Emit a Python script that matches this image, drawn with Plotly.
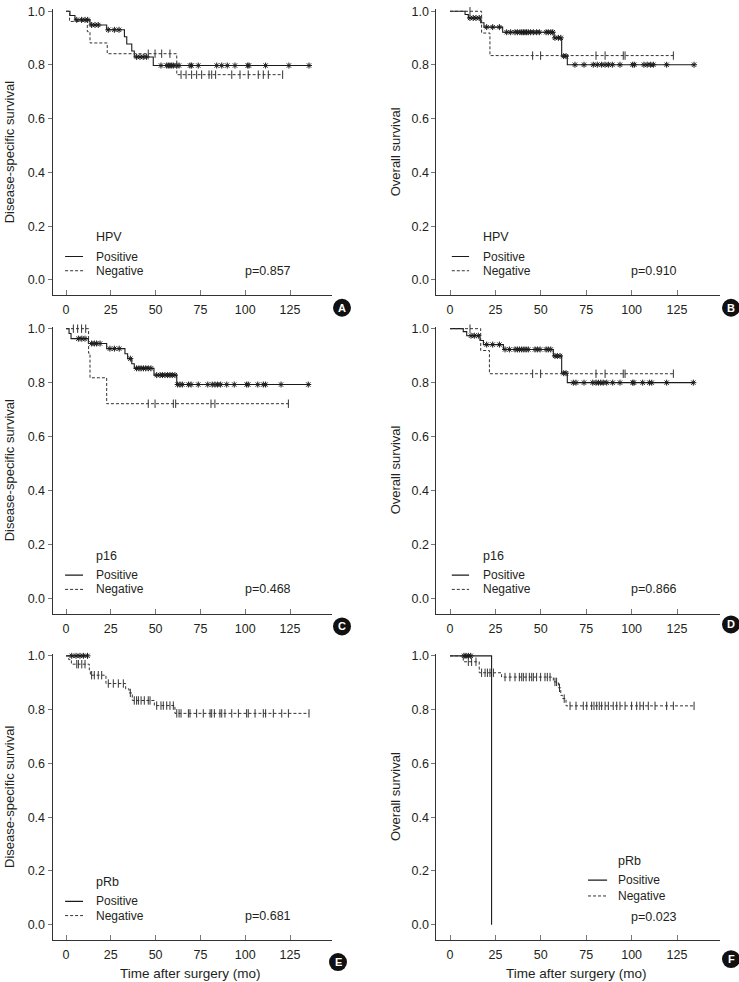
import plotly.graph_objects as go

W, H = 739, 982

# ---------------- data (months, survival) ----------------
# Panel A: HPV, disease-specific survival
A_pos_t = [2.2, 5.0, 13.4, 22.7, 32.6, 33.9, 36.7, 38.1, 48.7]
A_pos_s = [0.984, 0.968, 0.949, 0.931, 0.905, 0.878, 0.852, 0.830, 0.798]
A_pos_c = [6.0, 8.7, 10.6, 12.1, 14.3, 16.2, 18.0, 23.6, 27.0, 29.6, 39.4, 41.3, 43.1, 45.0,
           53.0, 56.2, 57.1, 58.0, 59.0, 59.9, 61.8, 63.1, 69.2, 70.1, 73.8, 84.1, 86.9,
           90.0, 94.3, 101.4, 102.1, 111.4, 124.4, 135.6]
A_neg_t = [2.0, 11.9, 13.4, 23.0, 61.8]
A_neg_s = [0.962, 0.924, 0.882, 0.842, 0.764]
A_neg_c = [45.9, 49.7, 53.4, 58.0, 64.2, 67.0, 70.1, 72.9, 75.7, 79.8, 81.3, 83.5, 92.5,
           97.1, 101.7, 107.3, 110.1, 112.9, 120.9]

# Panel B: HPV, overall survival
B_pos_t = [8.3, 10.1, 16.9, 18.7, 29.0, 57.3, 61.5, 64.6]
B_pos_s = [0.988, 0.975, 0.957, 0.941, 0.922, 0.901, 0.833, 0.801]
B_pos_c = [11.0, 12.8, 14.3, 16.1, 20.2, 23.5, 27.2, 31.2, 33.4, 35.8, 37.1, 38.5, 39.5,
           40.4, 41.3, 42.2, 43.1, 44.4, 45.9, 47.7, 49.2, 52.9, 54.1, 55.5, 56.6, 57.8,
           59.7, 61.0, 62.6, 63.9, 68.8, 73.8, 78.9, 81.1, 83.5, 85.4, 87.2, 89.4, 93.6,
           100.6, 101.5, 106.8, 108.6, 110.5, 112.0, 119.3, 134.4]
B_neg_t = [17.4, 22.0]
B_neg_s = [0.919, 0.835]
B_neg_c = [11.0, 45.5, 49.9, 80.4, 85.4, 95.4, 96.4, 123.0]

# Panel C: p16, disease-specific survival
C_pos_t = [1.7, 2.8, 12.5, 22.7, 32.9, 34.4, 36.7, 38.1, 49.1, 61.8]
C_pos_s = [0.982, 0.963, 0.945, 0.926, 0.907, 0.889, 0.870, 0.853, 0.828, 0.793]
C_pos_c = [6.9, 8.8, 10.6, 14.3, 15.8, 17.1, 19.0, 24.5, 27.0, 29.7, 35.9, 39.4, 40.7,
           41.9, 43.2, 44.5, 45.9, 47.4, 50.6, 52.5, 53.8, 55.2, 56.7, 58.0, 59.3, 60.8,
           62.3, 63.6, 64.9, 68.3, 69.8, 73.8, 79.1, 81.6, 83.1, 84.6, 86.3, 89.7, 93.9,
           100.8, 101.7, 107.0, 110.1, 111.4, 120.0, 135.2]
C_neg_t = [12.6, 13.4, 22.7]
C_neg_s = [0.909, 0.818, 0.722]
C_neg_c = [4.1, 6.5, 8.7, 11.0, 45.9, 49.7, 59.9, 61.2, 80.9, 83.1, 124.1]

# Panel D: p16, overall survival
D_pos_t = [7.3, 9.2, 16.5, 18.4, 29.4, 56.9, 61.5, 64.6]
D_pos_s = [0.989, 0.974, 0.956, 0.941, 0.923, 0.899, 0.835, 0.800]
D_pos_c = [11.6, 13.4, 15.6, 20.2, 23.5, 27.2, 30.3, 32.7, 35.8, 37.1, 38.2, 39.5, 40.7,
           41.9, 43.1, 46.8, 48.1, 49.6, 52.9, 54.1, 55.5, 57.8, 59.1, 60.6, 62.6, 63.9,
           67.9, 69.4, 73.8, 78.6, 80.4, 81.7, 83.0, 84.4, 86.3, 89.6, 93.6, 100.6, 101.3,
           106.1, 109.8, 111.1, 119.3, 134.0]
D_neg_t = [16.9, 21.7]
D_neg_s = [0.919, 0.833]
D_neg_c = [11.0, 45.5, 49.9, 80.4, 85.4, 95.4, 96.4, 123.0]

# Panel E: pRb, disease-specific survival
E_pos_t = []
E_pos_s = []
E_pos_c = [3.2, 5.6, 7.8, 9.7, 12.0]
E_neg_t = [1.5, 3.0, 13.0, 13.6, 22.3, 33.3, 35.2, 37.0, 49.3, 60.8]
E_neg_s = [0.986, 0.969, 0.948, 0.928, 0.897, 0.877, 0.862, 0.834, 0.815, 0.786]
E_neg_c = [6.0, 6.9, 8.8, 10.6, 14.3, 15.8, 18.0, 19.9, 23.6, 26.4, 29.2, 32.0, 35.9,
           38.1, 39.4, 40.4, 41.9, 43.7, 45.9, 46.9, 50.6, 53.0, 54.3, 56.2, 58.0, 59.9,
           61.8, 63.1, 64.2, 68.3, 69.2, 72.9, 76.6, 80.4, 81.3, 82.8, 85.9, 86.9, 88.7,
           92.5, 96.2, 100.8, 101.7, 105.5, 110.1, 111.4, 115.7, 120.4, 124.1, 135.6]

# Panel F: pRb, overall survival
F_pos_t = [22.9]
F_pos_s = [0.0]
F_pos_c = [7.7, 8.8, 10.1, 11.4]
F_neg_t = [7.3, 16.1, 28.4, 56.9, 59.7, 61.0, 62.0, 63.9]
F_neg_s = [0.978, 0.937, 0.921, 0.903, 0.881, 0.853, 0.841, 0.814]
F_neg_c = [10.1, 11.9, 14.3, 17.4, 19.3, 20.6, 22.0, 23.9, 30.3, 33.0, 35.8, 38.2, 39.5,
           40.4, 41.9, 43.7, 45.0, 45.9, 47.7, 49.9, 52.3, 53.6, 55.1, 57.8, 58.7, 60.3,
           62.9, 66.1, 69.4, 73.4, 75.3, 78.0, 79.3, 80.8, 82.2, 83.5, 85.4, 87.2, 89.9,
           91.8, 93.6, 96.4, 100.0, 102.8, 104.6, 106.5, 109.2, 112.9, 119.3, 123.0, 134.4]

markers = ["HPV", "HPV", "p16", "p16", "pRb", "pRb"]
p_values = ["0.857", "0.910", "0.468", "0.866", "0.681", "0.023"]
panel_letters = ["A", "B", "C", "D", "E", "F"]
y_titles = ["Disease-specific survival", "Overall survival"] * 3
x_title = "Time after surgery (mo)"
x_ticks = [0, 25, 50, 75, 100, 125]
y_ticks = [0.0, 0.2, 0.4, 0.6, 0.8, 1.0]

panels = [
    (A_pos_t, A_pos_s, A_pos_c, A_neg_t, A_neg_s, A_neg_c),
    (B_pos_t, B_pos_s, B_pos_c, B_neg_t, B_neg_s, B_neg_c),
    (C_pos_t, C_pos_s, C_pos_c, C_neg_t, C_neg_s, C_neg_c),
    (D_pos_t, D_pos_s, D_pos_c, D_neg_t, D_neg_s, D_neg_c),
    (E_pos_t, E_pos_s, E_pos_c, E_neg_t, E_neg_s, E_neg_c),
    (F_pos_t, F_pos_s, F_pos_c, F_neg_t, F_neg_s, F_neg_c),
]

# ---------------- layout geometry (pixels) ----------------
XR = [-7.5, 148.5]
YR = [-0.058, 1.008]
col_x0 = [66, 450]          # pixel of month 0
col_scale = [1.792, 1.816]  # px per month
row_p1 = [7.3, 326.0, 654.5]   # pixel of survival 1.0
row_p0 = [277.0, 597.0, 924.5]  # pixel of survival 0.0

FONT = "Liberation Sans, Arial, Helvetica, sans-serif"
INK = "#231f20"
POS_C = "#1a1a1a"
NEG_C = "#333333"


def surv_at(t, times, survs):
    s = 1.0
    for ti, si in zip(times, survs):
        if ti <= t:
            s = si
    return s


def step_xy(times, survs, cens):
    xs = [0.0] + list(times)
    ys = [1.0] + list(survs)
    end = max(list(times) + list(cens)) if (times or cens) else 0
    if not times or end > times[-1]:
        xs.append(end)
        ys.append(ys[-1])
    return xs, ys


fig = go.Figure()
layout = dict(
    width=W, height=H, margin=dict(l=0, r=0, t=0, b=0),
    paper_bgcolor="white", plot_bgcolor="white", showlegend=False,
    font=dict(family=FONT, color=INK, size=12),
)
annotations = []
shapes = []

for i, (pt, ps, pc, nt, ns, nc) in enumerate(panels):
    col = i % 2
    row = i // 2
    k = "" if i == 0 else str(i + 1)
    xref, yref = "x" + k, "y" + k
    sc = col_scale[col]
    left_px = col_x0[col] + XR[0] * sc
    right_px = col_x0[col] + XR[1] * sc
    hpx = row_p0[row] - row_p1[row]
    top_px = row_p1[row] - (YR[1] - 1.0) * hpx
    bot_px = row_p0[row] - YR[0] * hpx
    layout["xaxis" + k] = dict(
        domain=[left_px / W, right_px / W], range=XR, anchor=yref,
        showgrid=False, zeroline=False, showline=True, linecolor="#333", linewidth=1,
        ticks="inside", ticklen=5, tickcolor="#777", tickwidth=1,
        tickvals=x_ticks, tickfont=dict(size=12.5, color=INK), ticklabelstandoff=3,
        fixedrange=True,
    )
    layout["yaxis" + k] = dict(
        domain=[1 - bot_px / H, 1 - top_px / H], range=YR, anchor=xref,
        showgrid=False, zeroline=False, showline=True, linecolor="#333", linewidth=1,
        ticks="outside", ticklen=4, tickcolor="#777", tickwidth=1,
        tickvals=y_ticks, tickformat=".1f", tickfont=dict(size=12.5, color=INK),
        fixedrange=True,
    )

    # Positive (solid)
    xs, ys = step_xy(pt, ps, pc)
    fig.add_trace(go.Scatter(x=xs, y=ys, mode="lines", line_shape="hv",
                             line=dict(color=POS_C, width=1.1),
                             xaxis=xref, yaxis=yref, cliponaxis=False))
    fig.add_trace(go.Scatter(x=pc, y=[surv_at(t, pt, ps) for t in pc], mode="markers",
                             marker=dict(symbol="asterisk-open", size=5, color=POS_C,
                                         line=dict(color=POS_C, width=1)),
                             xaxis=xref, yaxis=yref, cliponaxis=False))
    # Negative (dashed)
    xs, ys = step_xy(nt, ns, nc)
    fig.add_trace(go.Scatter(x=xs, y=ys, mode="lines", line_shape="hv",
                             line=dict(color=NEG_C, width=1, dash="3px,2px"),
                             xaxis=xref, yaxis=yref, cliponaxis=False))
    fig.add_trace(go.Scatter(x=nc, y=[surv_at(t, nt, ns) for t in nc], mode="markers",
                             marker=dict(symbol="line-ns-open", size=6, color=NEG_C,
                                         line=dict(color=NEG_C, width=1)),
                             xaxis=xref, yaxis=yref, cliponaxis=False))

    # legend block
    if i == 5:
        lx0, lx1, tx = 76, 86.5, 91.4
        yt, yp, yn = 0.236, 0.166, 0.107
        px_, py_ = 98.6, 0.027
    else:
        if col == 0:
            lx0, lx1, tx = -0.5, 9.5, 15.5
        else:
            lx0, lx1, tx = 1.0, 10.5, 16.9
        yt, yp, yn = 0.158, 0.087, 0.034
        px_, py_ = 98.8, 0.034
    annotations.append(dict(xref=xref, yref=yref, x=tx, y=yt, text=markers[i],
                            showarrow=False, xanchor="left", yanchor="middle",
                            font=dict(size=12.5)))
    annotations.append(dict(xref=xref, yref=yref, x=tx, y=yp, text="Positive",
                            showarrow=False, xanchor="left", yanchor="middle",
                            font=dict(size=12)))
    annotations.append(dict(xref=xref, yref=yref, x=tx, y=yn, text="Negative",
                            showarrow=False, xanchor="left", yanchor="middle",
                            font=dict(size=12)))
    annotations.append(dict(xref=xref, yref=yref, x=px_, y=py_, text="p=" + p_values[i],
                            showarrow=False, xanchor="left", yanchor="middle",
                            font=dict(size=12.5)))
    shapes.append(dict(type="line", xref=xref, yref=yref, x0=lx0, x1=lx1, y0=yp, y1=yp,
                       line=dict(color=POS_C, width=1.1)))
    shapes.append(dict(type="line", xref=xref, yref=yref, x0=lx0, x1=lx1, y0=yn, y1=yn,
                       line=dict(color=NEG_C, width=1, dash="3px,2px")))

    # y axis title
    ytx = 9 if col == 0 else 395
    annotations.append(dict(xref="paper", yref="paper", x=ytx / W,
                            y=1 - ((top_px + bot_px) / 2) / H, text=y_titles[i],
                            textangle=-90, showarrow=False, xanchor="center",
                            yanchor="middle", font=dict(size=13)))
    # x axis title (bottom row)
    if row == 2:
        annotations.append(dict(xref="paper", yref="paper",
                                x=((left_px + right_px) / 2 - 2) / W, y=1 - 973 / H,
                                text=x_title, showarrow=False, xanchor="center",
                                yanchor="middle", font=dict(size=13.5)))

# panel letter badges
badge_pos = [(342, 305), (731, 305), (342, 625), (731, 623), (338, 962), (731, 959)]
for (cx, cy), letter in zip(badge_pos, panel_letters):
    r = 9
    shapes.append(dict(type="circle", xref="paper", yref="paper",
                       x0=(cx - r) / W, x1=(cx + r) / W, y0=1 - (cy + r) / H, y1=1 - (cy - r) / H,
                       fillcolor="#111", line=dict(color="#111", width=0)))
    annotations.append(dict(xref="paper", yref="paper", x=cx / W, y=1 - cy / H,
                            text="<b>" + letter + "</b>", showarrow=False,
                            xanchor="center", yanchor="middle",
                            font=dict(size=11, color="white",
                                      family="Liberation Sans, Arial, sans-serif")))

layout["annotations"] = annotations
layout["shapes"] = shapes
fig.update_layout(**layout)
fig.write_html(
    "out.html",
    config={"displayModeBar": False},
    post_script="document.body.style.margin='0';document.body.style.overflow='hidden';",
)
